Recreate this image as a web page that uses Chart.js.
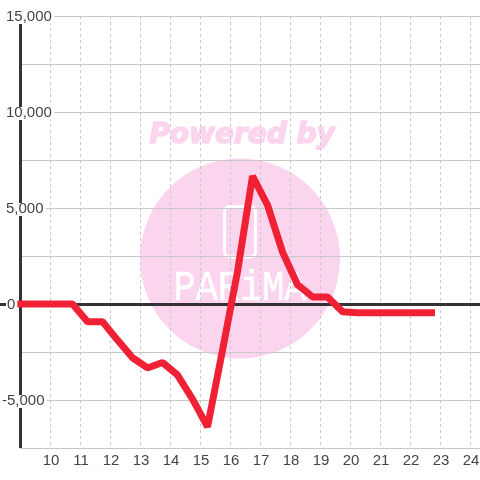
<!DOCTYPE html>
<html>
<head>
<meta charset="utf-8">
<script src="https://cdn.jsdelivr.net/npm/chart.js@4/dist/chart.umd.min.js"></script>
<style>
    html, body { margin: 0; padding: 0; background: #fff; }
    #wrap { width: 480px; height: 480px; }
</style>
</head>
<body>
<div id="wrap"><canvas id="grafico" width="480" height="480"></canvas></div>
<script>
const horas = [8.75, 9.25, 9.75, 10.25, 10.75, 11.25, 11.75, 12.25, 12.75, 13.25, 13.75, 14.25, 14.75, 15.25, 15.75, 16.25, 16.75, 17.25, 17.75, 18.25, 18.75, 19.25, 19.75, 20.25, 20.75, 21.25, 21.75, 22.25, 22.83];
const valores = [0, 0, 0, 0, 0, -920, -920, -1880, -2800, -3330, -3050, -3700, -4950, -6400, -2400, 1700, 6660, 5150, 2700, 1000, 370, 370, -400, -450, -450, -450, -450, -450, -450];
const rotulosY = [15000, 10000, 5000, 0, -5000];

const marcaDagua = {
    id: 'marcaDagua',
    beforeDraw(chart) {
        const c = chart.ctx;
        c.save();
        c.fillStyle = '#fbd5ee';
        c.strokeStyle = '#fbd5ee';
        c.beginPath();
        c.arc(240, 258.5, 100, 0, Math.PI * 2);
        c.fill();
        c.font = 'italic bold 28px "DejaVu Sans"';
        c.textAlign = 'center';
        c.textBaseline = 'middle';
        c.lineWidth = 1.5;
        c.fillText('Powered by', 242, 136);
        c.strokeText('Powered by', 242, 136);
        c.strokeStyle = '#ffffff';
        c.lineWidth = 3;
        c.beginPath();
        c.roundRect(224.5, 206.5, 31, 50.5, 5);
        c.stroke();
        c.fillStyle = '#ffffff';
        c.lineWidth = 0.5;
        c.font = '42px "Liberation Mono"';
        c.translate(240, 289);
        c.scale(0.88, 1);
        c.fillText('PARiMA', 0, 0);
        c.strokeText('PARiMA', 0, 0);
        c.restore();
    }
};

// rotulos do eixo y ficam por cima da linha, com fundo branco
const rotulosEixoY = {
    id: 'rotulosEixoY',
    afterDatasetsDraw(chart) {
        const c = chart.ctx;
        const y = chart.scales.y;
        c.save();
        c.font = '15px "Liberation Sans"';
        c.textBaseline = 'middle';
        rotulosY.forEach(function (v) {
            const texto = v.toLocaleString('en-US');
            const larg = c.measureText(texto).width;
            const inicio = v > 0 ? 6 : 7 - (v < 0 ? c.measureText('-').width : 0);
            const px = y.getPixelForValue(v);
            c.fillStyle = '#ffffff';
            c.fillRect(inicio - 1, px - 5, larg + 3, 13);
            c.fillStyle = '#444444';
            c.fillText(texto, inicio, px + 1);
        });
        c.restore();
    }
};

const eixosFortes = {
    id: 'eixosFortes',
    beforeDatasetsDraw(chart) {
        const c = chart.ctx;
        const a = chart.chartArea;
        const zero = chart.scales.y.getPixelForValue(0) + 0.5;
        const esquerda = chart.scales.x.getPixelForValue(9) + 0.5;
        c.save();
        c.strokeStyle = '#333333';
        c.lineWidth = 3;
        c.beginPath();
        c.moveTo(esquerda, a.top);
        c.lineTo(esquerda, a.bottom);
        c.moveTo(0, zero);
        c.lineTo(a.right, zero);
        c.stroke();
        c.restore();
    }
};

new Chart(document.getElementById('grafico'), {
    type: 'line',
    data: {
        datasets: [{
            data: horas.map(function (h, i) { return { x: h, y: valores[i] }; }),
            borderColor: '#f02035',
            borderWidth: 7,
            borderJoinStyle: 'bevel',
            pointRadius: 0,
            tension: 0,
            clip: false
        }]
    },
    options: {
        responsive: false,
        animation: false,
        layout: { padding: { left: 20, top: 16, right: 0, bottom: 0 } },
        plugins: {
            legend: { display: false },
            title: { display: false },
            tooltip: { enabled: false }
        },
        scales: {
            x: {
                type: 'linear',
                min: 9,
                max: 24.33,
                afterBuildTicks: function (eixo) {
                    eixo.ticks = [];
                    for (let h = 9; h <= 24; h++) {
                        eixo.ticks.push({ value: h });
                    }
                },
                afterFit: function (eixo) {
                    eixo.height = 32;
                    eixo.paddingLeft = 0;
                    eixo.paddingRight = 0;
                },
                border: { display: false, dash: [3, 3] },
                grid: {
                    color: function (ctx) { return ctx.tick.value === 9 ? 'rgba(0,0,0,0)' : '#c8c8c8'; },
                    drawTicks: false
                },
                ticks: {
                    color: '#444444',
                    font: { family: 'Liberation Sans', size: 15 },
                    maxRotation: 0,
                    autoSkip: false,
                    padding: 4,
                    labelOffset: 1,
                    callback: function (v) { return v === 9 ? '' : String(v); }
                }
            },
            y: {
                min: -7500,
                max: 15000,
                afterFit: function (eixo) { eixo.width = 0; },
                border: { display: false },
                grid: {
                    color: '#c8c8c8',
                    drawTicks: false
                },
                ticks: { stepSize: 2500, display: false }
            }
        }
    },
    plugins: [marcaDagua, eixosFortes, rotulosEixoY]
});
</script>
</body>
</html>
